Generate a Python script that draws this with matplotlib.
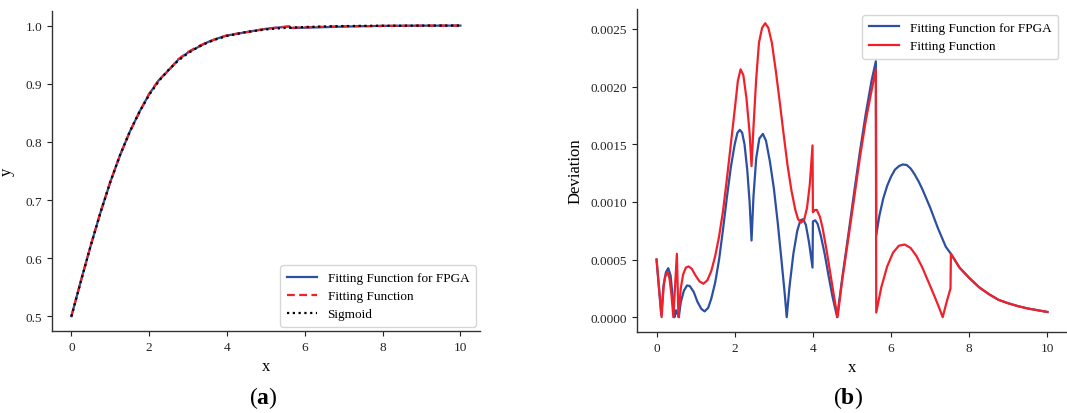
import matplotlib
matplotlib.use("Agg")
import matplotlib.pyplot as plt
import numpy as np

# ---------------- data: panel (a) ----------------
x_a = [0.0, 0.25, 0.5, 0.75, 1.0, 1.25, 1.5, 1.75, 2.0, 2.25, 2.5, 2.75, 3.0,
       3.25, 3.5, 3.75, 4.0, 4.5, 5.0, 5.3, 5.61, 5.62, 6.0, 6.5, 7.0, 7.52,
       7.53, 8.0, 9.0, 10.0]
y_sigmoid = [0.5, 0.5622, 0.6225, 0.6792, 0.7311, 0.7773, 0.8176, 0.8520,
             0.8808, 0.9047, 0.9241, 0.9399, 0.9526, 0.9627, 0.9707, 0.9770,
             0.9820, 0.9890, 0.9933, 0.9950, 0.9964, 0.9964, 0.9975, 0.9985,
             0.9991, 0.9995, 0.9995, 0.9997, 0.9999, 1.0]
y_fpga = [0.5005, 0.5626, 0.6228, 0.6794, 0.7312, 0.7772, 0.8174, 0.8518,
          0.8823, 0.9063, 0.9234, 0.9415, 0.9538, 0.9627, 0.9714, 0.9778,
          0.9828, 0.9889, 0.9944, 0.9965, 0.9986, 0.9957, 0.9963, 0.9972,
          0.9982, 0.9989, 0.9989, 0.9994, 0.9998, 0.99995]
y_fit = [0.5005, 0.5625, 0.6229, 0.6796, 0.7313, 0.7770, 0.8172, 0.8512,
         0.8828, 0.9068, 0.9228, 0.9423, 0.9546, 0.9640, 0.9717, 0.9778,
         0.9834, 0.9885, 0.9945, 0.9967, 0.9985, 0.9960, 0.9970, 0.9979,
         0.9988, 0.9992, 0.9989, 0.9994, 0.9998, 0.99995]

# ---------------- data: panel (b) ----------------
x_dev_fpga = [0.00, 0.12, 0.18, 0.24, 0.30, 0.36, 0.42, 0.46, 0.50, 0.57,
              0.62, 0.70, 0.78, 0.85, 0.95, 1.05, 1.15, 1.23, 1.32, 1.40,
              1.50, 1.60, 1.70, 1.80, 1.90, 2.00, 2.07, 2.13, 2.19, 2.25,
              2.32, 2.38, 2.43, 2.48, 2.55, 2.63, 2.72, 2.80, 2.90, 3.00,
              3.10, 3.20, 3.28, 3.33, 3.40, 3.50, 3.60, 3.68, 3.75, 3.82,
              3.90, 3.99, 4.00, 4.06, 4.12, 4.20, 4.30, 4.40, 4.50, 4.62,
              4.75, 4.90, 5.05, 5.20, 5.35, 5.50, 5.61, 5.62, 5.70, 5.80,
              5.90, 6.00, 6.10, 6.20, 6.30, 6.40, 6.50, 6.60, 6.70, 6.80,
              6.90, 7.00, 7.10, 7.20, 7.30, 7.40, 7.53, 7.75, 8.00, 8.25,
              8.50, 8.75, 9.00, 9.25, 9.50, 9.75, 10.00]
dev_fpga = [5.0e-4, 0.2e-4, 2.8e-4, 3.9e-4, 4.25e-4, 3.6e-4, 1.5e-4, 0.0,
            0.6e-4, 0.0, 1.3e-4, 2.3e-4, 2.75e-4, 2.7e-4, 2.2e-4, 1.3e-4,
            0.7e-4, 0.5e-4, 0.8e-4, 1.6e-4, 3.0e-4, 5.0e-4, 7.6e-4, 10.4e-4,
            13.0e-4, 15.0e-4, 16.0e-4, 16.25e-4, 16.0e-4, 15.0e-4, 12.8e-4,
            10.0e-4, 6.65e-4, 10.5e-4, 13.8e-4, 15.5e-4, 15.9e-4, 15.3e-4,
            13.5e-4, 11.2e-4, 8.2e-4, 4.8e-4, 2.0e-4, 0.0, 2.6e-4, 5.5e-4,
            7.5e-4, 8.4e-4, 8.5e-4, 8.0e-4, 6.5e-4, 4.3e-4, 8.3e-4, 8.4e-4,
            8.1e-4, 7.1e-4, 5.5e-4, 3.6e-4, 1.8e-4, 0.0, 3.4e-4, 7.0e-4,
            10.7e-4, 14.3e-4, 17.6e-4, 20.5e-4, 22.2e-4, 7.1e-4, 8.8e-4,
            10.3e-4, 11.4e-4, 12.2e-4, 12.8e-4, 13.1e-4, 13.25e-4, 13.2e-4,
            12.9e-4, 12.4e-4, 11.8e-4, 11.1e-4, 10.3e-4, 9.5e-4, 8.6e-4,
            7.7e-4, 6.9e-4, 6.1e-4, 5.5e-4, 4.3e-4, 3.4e-4, 2.6e-4, 2.0e-4,
            1.5e-4, 1.2e-4, 0.95e-4, 0.75e-4, 0.6e-4, 0.45e-4]

x_dev_fit = [0.00, 0.13, 0.18, 0.22, 0.28, 0.33, 0.38, 0.43, 0.52, 0.56,
             0.62, 0.68, 0.75, 0.82, 0.90, 1.00, 1.10, 1.20, 1.30, 1.40,
             1.50, 1.60, 1.70, 1.80, 1.90, 2.00, 2.08, 2.15, 2.22, 2.30,
             2.38, 2.43, 2.48, 2.55, 2.62, 2.70, 2.78, 2.86, 2.95, 3.05,
             3.15, 3.25, 3.35, 3.45, 3.55, 3.62, 3.70, 3.78, 3.85, 3.92,
             3.99, 4.00, 4.05, 4.10, 4.18, 4.25, 4.35, 4.45, 4.55, 4.63,
             4.75, 4.90, 5.05, 5.20, 5.35, 5.48, 5.61, 5.62, 5.75, 5.90,
             6.05, 6.20, 6.35, 6.50, 6.65, 6.80, 6.95, 7.10, 7.22, 7.32,
             7.42, 7.52, 7.53, 7.75, 8.00, 8.25, 8.50, 8.75, 9.00, 9.25,
             9.50, 9.75, 10.00]
dev_fit = [5.0e-4, 0.0, 2.6e-4, 3.5e-4, 3.9e-4, 3.4e-4, 2.0e-4, 0.0, 5.5e-4,
           0.0, 2.5e-4, 3.7e-4, 4.3e-4, 4.4e-4, 4.2e-4, 3.6e-4, 3.1e-4,
           2.9e-4, 3.2e-4, 4.0e-4, 5.3e-4, 7.0e-4, 9.2e-4, 12.0e-4, 15.0e-4,
           18.0e-4, 20.5e-4, 21.5e-4, 21.0e-4, 19.0e-4, 16.0e-4, 13.1e-4,
           16.5e-4, 20.7e-4, 23.8e-4, 25.1e-4, 25.5e-4, 25.1e-4, 23.8e-4,
           21.4e-4, 18.7e-4, 15.9e-4, 13.2e-4, 11.0e-4, 9.3e-4, 8.5e-4,
           8.2e-4, 8.5e-4, 9.5e-4, 11.5e-4, 14.9e-4, 9.1e-4, 9.3e-4, 9.3e-4,
           8.7e-4, 7.7e-4, 5.8e-4, 3.7e-4, 1.6e-4, 0.0, 3.2e-4, 6.7e-4,
           10.2e-4, 13.8e-4, 17.0e-4, 19.3e-4, 21.5e-4, 0.4e-4, 2.6e-4,
           4.4e-4, 5.6e-4, 6.2e-4, 6.3e-4, 6.0e-4, 5.3e-4, 4.3e-4, 3.1e-4,
           1.9e-4, 0.9e-4, 0.0, 1.3e-4, 2.5e-4, 5.5e-4, 4.3e-4, 3.4e-4,
           2.6e-4, 2.0e-4, 1.5e-4, 1.2e-4, 0.95e-4, 0.75e-4, 0.6e-4, 0.45e-4]

labels_a = ["Fitting Function for FPGA", "Fitting Function", "Sigmoid"]
labels_b = ["Fitting Function for FPGA", "Fitting Function"]
captions = ["a", "b"]

# ---------------- style ----------------
BLUE = "#2c4fa3"
RED = "#f0212b"
plt.rcParams["font.family"] = ["Liberation Serif", "DejaVu Serif"]
plt.rcParams["mathtext.fontset"] = "custom"
plt.rcParams["mathtext.rm"] = "Liberation Serif"
plt.rcParams["mathtext.bf"] = "Liberation Serif:bold"
plt.rcParams["font.size"] = 9.5
SPINE = "#333333"

fig = plt.figure(figsize=(10.67, 4.14), dpi=100)
ax1 = fig.add_axes([0.0487, 0.198, 0.401, 0.773])
ax2 = fig.add_axes([0.597, 0.196, 0.403, 0.781])

def style(ax):
    for s in ["top", "right"]:
        ax.spines[s].set_visible(False)
    for s in ["left", "bottom"]:
        ax.spines[s].set_color(SPINE)
        ax.spines[s].set_linewidth(1.0)
    ax.tick_params(colors="#222222", length=3.5, width=0.8, labelsize=9.5)

ax1.plot(x_a, y_fpga, color=BLUE, lw=1.6, label=labels_a[0])
ax1.plot(x_a, y_fit, color=RED, lw=1.6, ls=(0, (3.5, 2.0)), label=labels_a[1])
ax1.plot(x_a, y_sigmoid, color="black", lw=1.6, ls=(0, (1, 1.6)), label=labels_a[2])
ax1.set_xticks([0, 2, 4, 6, 8, 10])
ax1.set_yticks([0.5, 0.6, 0.7, 0.8, 0.9, 1.0])
ax1.set_xlabel("x", fontsize=12, labelpad=4)
ax1.set_ylabel("y", fontsize=12, labelpad=8)
style(ax1)
ax1.legend(loc="lower right", fontsize=9.5, frameon=True, fancybox=True,
           edgecolor="#cccccc", handlelength=2.3, borderpad=0.5,
           labelspacing=0.45, bbox_to_anchor=(1.0, 0.0), borderaxespad=0.3)

ax2.plot(x_dev_fpga, dev_fpga, color=BLUE, lw=1.6, label=labels_b[0])
ax2.plot(x_dev_fit, dev_fit, color=RED, lw=1.6, label=labels_b[1])
ax2.set_xticks([0, 2, 4, 6, 8, 10])
ax2.set_yticks([0.0, 0.0005, 0.0010, 0.0015, 0.0020, 0.0025])
ax2.set_yticklabels(["0.0000", "0.0005", "0.0010", "0.0015", "0.0020", "0.0025"])
ax2.set_xlim(-0.5, 10.5)
ax2.set_xlabel("x", fontsize=12, labelpad=4)
ax2.set_ylabel("Deviation", fontsize=12, labelpad=5)
style(ax2)
ax2.legend(loc="upper right", fontsize=9.5, frameon=True, fancybox=True,
           edgecolor="#cccccc", handlelength=2.3, borderpad=0.5,
           labelspacing=0.45, bbox_to_anchor=(0.995, 1.0))

fig.text(263 / 1067, 1 - 398 / 414, r"($\mathbf{%s}$)" % captions[0],
         ha="center", va="center", fontsize=17)
fig.text(848 / 1067, 1 - 398 / 414, r"($\mathbf{%s}$)" % captions[1],
         ha="center", va="center", fontsize=17)

fig.savefig("out.png", dpi=100)
